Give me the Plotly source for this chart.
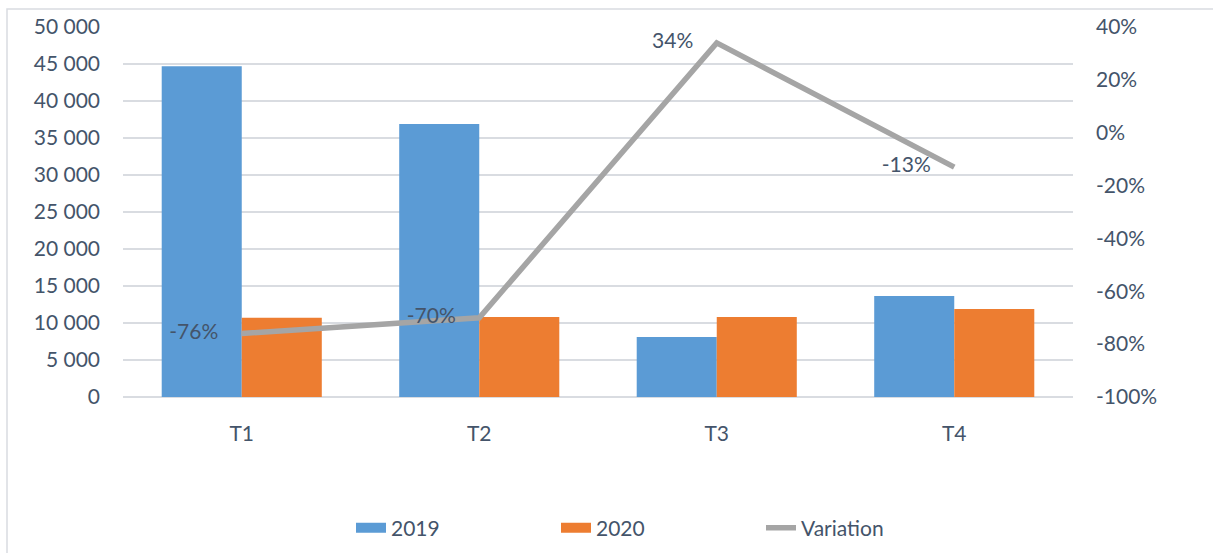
import plotly.graph_objects as go

categories = ["T1", "T2", "T3", "T4"]
values_2019 = [44700, 36900, 8100, 13650]
values_2020 = [10700, 10800, 10800, 11900]
variation = [-0.76, -0.70, 0.34, -0.13]
variation_labels = ["-76%", "-70%", "34%", "-13%"]
left_ticks = [0, 5000, 10000, 15000, 20000, 25000, 30000, 35000, 40000, 45000, 50000]
left_tick_labels = ["0", "5 000", "10 000", "15 000", "20 000", "25 000", "30 000",
                    "35 000", "40 000", "45 000", "50 000"]
right_ticks = [-1.0, -0.8, -0.6, -0.4, -0.2, 0.0, 0.2, 0.4]
right_tick_labels = ["-100%", "-80%", "-60%", "-40%", "-20%", "0%", "20%", "40%"]

FONT = "Lato"
FS = 21
TXT = "#44546A"
GRID = "#D9DCE1"
BLUE = "#5B9BD5"
ORANGE = "#ED7D31"
GREY = "#A5A5A5"

fig = go.Figure()
fig.add_trace(go.Bar(x=categories, y=values_2019, name="2019", showlegend=False,
                     marker=dict(color=BLUE, line=dict(width=0))))
fig.add_trace(go.Bar(x=categories, y=values_2020, name="2020", showlegend=False,
                     marker=dict(color=ORANGE, line=dict(width=0))))
fig.add_trace(go.Scatter(x=categories, y=variation, name="Variation", yaxis="y2",
                         mode="lines+markers+text", text=variation_labels,
                         textposition="middle left", showlegend=False,
                         marker=dict(size=36, color="rgba(0,0,0,0)"),
                         textfont=dict(family=FONT, size=FS, color=TXT),
                         line=dict(color=GREY, width=5.5)))
# legend entries (wide swatches like the original)
for nm, col, w in [("2019", BLUE, 10), ("2020", ORANGE, 10), ("Variation", GREY, 5.5)]:
    fig.add_trace(go.Scatter(x=[None], y=[None], name=nm, mode="lines",
                             line=dict(color=col, width=w), showlegend=True))

W, H = 1213, 553
L, R, T, B = 123, 140, 27, 156
pw, ph = W - L - R, H - T - B

fig.update_layout(
    width=W, height=H,
    margin=dict(l=L, r=R, t=T, b=B, autoexpand=False),
    paper_bgcolor="white", plot_bgcolor="white",
    font=dict(family=FONT, size=FS, color=TXT),
    barmode="group", bargap=0.326, bargroupgap=0,
    showlegend=True,
    legend=dict(orientation="h", x=(351 - L) / pw, xanchor="left",
                y=(397 - 528) / ph, yanchor="middle",
                entrywidth=160, entrywidthmode="pixels",
                font=dict(family=FONT, size=FS, color=TXT),
                traceorder="normal", bgcolor="rgba(0,0,0,0)"),
    xaxis=dict(showgrid=False, showline=False, ticks="", ticklabelstandoff=22,
               tickfont=dict(family=FONT, size=FS, color=TXT)),
    yaxis=dict(range=[0, 50000], tickvals=left_ticks, ticktext=left_tick_labels,
               showgrid=True, gridcolor=GRID, gridwidth=1.5, zeroline=True,
               zerolinecolor=GRID, zerolinewidth=1.5, showline=False, ticks="",
               ticklabelstandoff=22, tickfont=dict(family=FONT, size=FS, color=TXT)),
    yaxis2=dict(range=[-1.0, 0.4], tickvals=right_ticks, ticktext=right_tick_labels,
                overlaying="y", side="right", showgrid=False, zeroline=False,
                showline=False, ticks="", ticklabelstandoff=22,
                tickfont=dict(family=FONT, size=FS, color=TXT)),
    shapes=[dict(type="rect", xref="paper", yref="paper",
                 x0=(7 - L) / pw, x1=(1240 - L) / pw,
                 y0=(397 - 580) / ph, y1=(397 - 9) / ph,
                 line=dict(color=GRID, width=1.5), fillcolor="rgba(0,0,0,0)",
                 layer="below")],
)

fig.write_html("out.html", config={"displayModeBar": False},
               post_script="document.body.style.margin='0';document.body.style.overflow='hidden';")
